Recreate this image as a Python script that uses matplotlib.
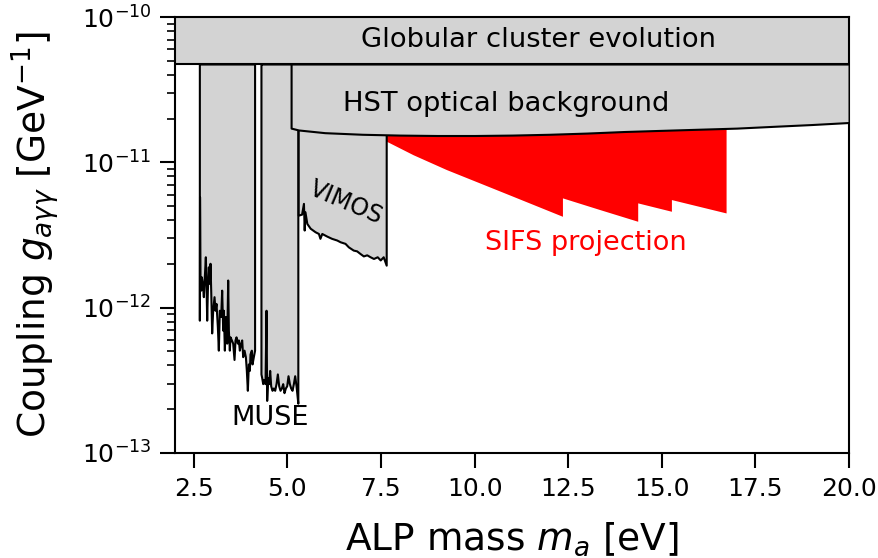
import numpy as np
import matplotlib
matplotlib.use("Agg")
import matplotlib.pyplot as plt

# coupling values in units of 1e-12 GeV^-1, masses in eV
gc_low = 47.5  # globular cluster bound

hst_m = [5.10, 5.3, 6.0, 7.0, 8.0, 9.0, 10.0, 11.0, 12.0, 13.0, 14.0, 15.0, 16.0, 17.0, 18.0, 19.0, 20.0]
hst_g = [17.2, 16.7, 16.0, 15.6, 15.4, 15.3, 15.3, 15.4, 15.6, 15.9, 16.3, 16.6, 16.9, 17.2, 17.7, 18.2, 18.8]

muse1_m = [2.650, 2.655, 2.660, 2.668, 2.686, 2.703, 2.730, 2.757, 2.783, 2.810, 2.828, 2.846,
           2.864, 2.890, 2.917, 2.935, 2.953, 2.979, 3.006, 3.042, 3.068, 3.095, 3.131, 3.157,
           3.184, 3.220, 3.246, 3.273, 3.291, 3.318, 3.344, 3.380, 3.407, 3.425, 3.451, 3.469,
           3.505, 3.540, 3.576, 3.603, 3.629, 3.665, 3.692, 3.718, 3.754, 3.781, 3.807, 3.843,
           3.879, 3.905, 3.932, 3.959, 3.985, 4.003, 4.039, 4.057, 4.092, 4.125]
muse1_g = [0.82, 5.80, 3.80, 1.55, 1.32, 1.63, 1.47, 1.19, 1.63, 2.24, 1.47, 0.82,
           1.32, 1.91, 1.47, 2.02, 1.32, 0.67, 0.96, 1.19, 0.96, 1.07, 0.74, 0.51,
           0.96, 0.87, 1.32, 0.70, 0.96, 0.51, 0.87, 0.57, 1.55, 0.70, 0.51, 0.63,
           0.60, 0.57, 0.44, 0.60, 0.63, 0.57, 0.60, 0.51, 0.57, 0.60, 0.46, 0.51,
           0.46, 0.37, 0.27, 0.41, 0.37, 0.48, 0.51, 0.41, 0.46, 0.51]

muse2_m = [4.295, 4.315, 4.342, 4.368, 4.404, 4.431, 4.448, 4.475, 4.502, 4.528, 4.555, 4.591,
           4.626, 4.662, 4.698, 4.733, 4.769, 4.804, 4.840, 4.876, 4.911, 4.947, 4.983, 5.018,
           5.054, 5.089, 5.125, 5.161, 5.196, 5.232, 5.280]
muse2_g = [0.35, 0.33, 0.30, 0.32, 0.30, 0.96, 0.23, 0.33, 0.30, 0.37, 0.29, 0.27,
           0.28, 0.27, 0.30, 0.35, 0.29, 0.27, 0.28, 0.30, 0.26, 0.28, 0.29, 0.34,
           0.30, 0.28, 0.27, 0.30, 0.34, 0.29, 0.22]

vimos_m = [5.29, 5.38, 5.43, 5.45, 5.47, 5.52, 5.61, 5.74, 5.83, 5.87, 5.92, 6.05, 6.18, 6.32,
           6.41, 6.54, 6.63, 6.76, 6.85, 6.94, 7.03, 7.12, 7.21, 7.30, 7.40, 7.48, 7.56, 7.64]
vimos_g = [4.33, 4.40, 5.22, 3.42, 4.57, 3.80, 3.52, 3.33, 3.24, 3.00, 3.24, 3.11, 3.00, 2.92,
           2.84, 2.77, 2.62, 2.49, 2.46, 2.36, 2.27, 2.31, 2.24, 2.18, 2.24, 2.13, 2.24, 1.96]

sifs_m = [7.65, 8.37, 9.26, 10.15, 11.04, 12.36, 12.36, 13.35, 14.37, 14.37, 15.27, 15.27, 16.73]
sifs_g = [13.9, 11.2, 8.85, 7.16, 5.79, 4.22, 5.65, 4.70, 3.90, 5.22, 4.57, 5.50, 4.45]

unit = 1e-12
grey = "#d3d3d3"
lw = 1.5

fig = plt.figure(figsize=(8.79, 5.58), dpi=100)
ax = fig.add_axes([0.1991, 0.1882, 0.7668, 0.7813])

sm = np.array(sifs_m)
top = np.interp(sm, hst_m, hst_g)
ax.fill_between(sm, np.array(sifs_g) * unit, top * unit, facecolor="red", edgecolor="none", zorder=1)

for m, g in [(muse1_m, muse1_g), (muse2_m, muse2_g), (vimos_m, vimos_g)]:
    ax.fill_between(m, np.array(g) * unit, gc_low * unit, facecolor=grey,
                    edgecolor="k", linewidth=lw, zorder=2)

ax.fill_between(hst_m, np.array(hst_g) * unit, gc_low * unit, facecolor=grey,
                edgecolor="k", linewidth=lw, zorder=3)
ax.fill_between([2, 20], gc_low * unit, 1e-10, facecolor=grey,
                edgecolor="k", linewidth=lw, zorder=4)

ax.text(11.70, 7.0e-11, "Globular cluster evolution", fontsize=19.7, ha="center", va="center", zorder=5)
ax.text(10.84, 2.52e-11, "HST optical background", fontsize=19.7, ha="center", va="center", zorder=5)
ax.text(6.57, 5.25e-12, "VIMOS", fontsize=17, rotation=-23, ha="center", va="center", zorder=5)
ax.text(4.54, 1.74e-13, "MUSE", fontsize=19.5, ha="center", va="center", zorder=5)
ax.text(12.98, 2.79e-12, "SIFS projection", fontsize=19.5, color="red", ha="center", va="center", zorder=5)

ax.set_yscale("log")
ax.set_xlim(2, 20)
ax.set_ylim(1e-13, 1e-10)
ax.set_xticks([2.5, 5.0, 7.5, 10.0, 12.5, 15.0, 17.5, 20.0])
ax.set_xticklabels(["2.5", "5.0", "7.5", "10.0", "12.5", "15.0", "17.5", "20.0"])
ax.set_xlabel("ALP mass $m_a$ [eV]", fontsize=27, labelpad=14)
ax.set_ylabel(r"Coupling $g_{a\gamma\gamma}$ [GeV$^{-1}$]", fontsize=27, labelpad=14)
ax.tick_params(which="major", length=11, width=1.5, labelsize=18, pad=6)
ax.tick_params(which="minor", length=6, width=1.2)
for s in ax.spines.values():
    s.set_linewidth(1.5)

plt.savefig("out.png", dpi=100)
